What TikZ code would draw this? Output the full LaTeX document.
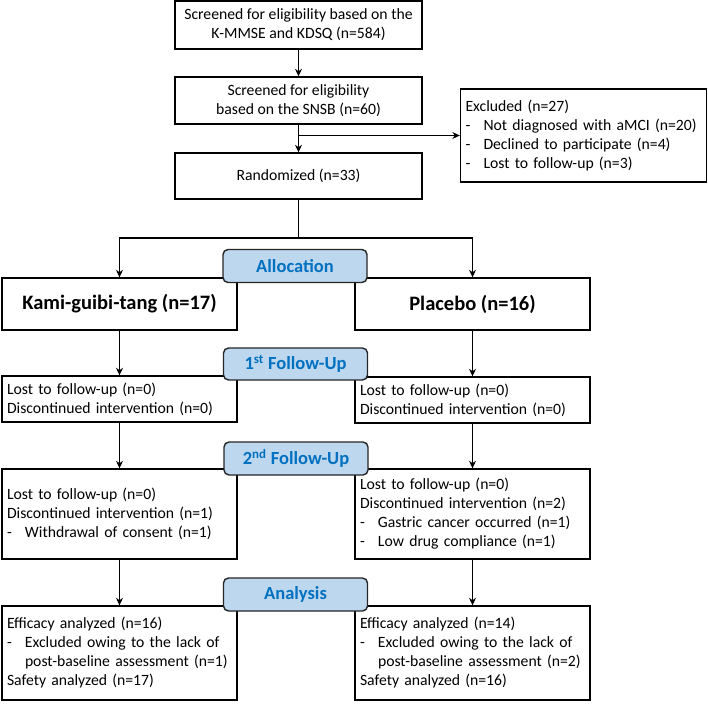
\documentclass[tikz,border=0pt]{standalone}
\usepackage{fontspec}
\setmainfont{Carlito}
\usetikzlibrary{arrows.meta}

\definecolor{stagefill}{HTML}{BDD7EE}
\definecolor{stagetext}{HTML}{0070C0}

\newcommand{\dashln}[1]{\makebox[18pt][l]{-}#1}

\tikzset{
  box/.style={draw=black, line width=1.4pt, fill=white, align=center, inner sep=0pt,
    font=\fontsize{15.7}{19}\selectfont},
  listbox/.style={box, align=left, inner xsep=5pt, text width=#1},
  groupbox/.style={box, font=\fontsize{20.5}{22}\selectfont\bfseries},
  stage/.style={draw=black!85, line width=1.4pt, fill=stagefill, rounded corners=5pt,
    text=stagetext, font=\fontsize{18.5}{20}\selectfont\bfseries,
    minimum width=144pt, minimum height=33pt, inner sep=0pt},
  arr/.style={-{Stealth[length=7.5pt,width=7pt]}, line width=1.1pt}
}

\begin{document}
\begin{tikzpicture}[x=1pt, y=-1pt]
        \useasboundingbox (0,0) rectangle (708,703);
        % screening
        \node[box, minimum width=247pt, minimum height=48pt] (scr1) at (298.5,25)
          {Screened for eligibility based on the\\K-MMSE and KDSQ (n=584)};
        \node[box, minimum width=247pt, minimum height=47pt] (scr2) at (298.5,100.5)
          {Screened for eligibility\\based on the SNSB (n=60)};
        \node[box, minimum width=247pt, minimum height=46pt] (rand) at (298.5,176)
          {Randomized (n=33)};
        \node[listbox=236pt, minimum height=93pt] (excl) at (583.5,135.5)
          {Excluded (n=27)\\
           \dashln{Not diagnosed with aMCI (n=20)}\\
           \dashln{Declined to participate (n=4)}\\
           \dashln{Lost to follow-up (n=3)}};
        \coordinate (split) at (298.5,238);
        % groups
        \node[groupbox, minimum width=235pt, minimum height=52pt] (kami) at (119.5,304)
          {Kami-guibi-tang (n=17)};
        \node[groupbox, minimum width=235pt, minimum height=52pt] (plac) at (472.5,304)
          {Placebo (n=16)};
        % first follow-up
        \node[listbox=225pt, minimum height=46pt] (fuL) at (119.5,399)
          {Lost to follow-up (n=0)\\Discontinued intervention (n=0)};
        \node[listbox=225pt, minimum height=46pt] (fuR) at (472.5,400)
          {Lost to follow-up (n=0)\\Discontinued intervention (n=0)};
        % second follow-up
        \node[listbox=225pt, minimum height=90pt] (sfL) at (119.5,514)
          {Lost to follow-up (n=0)\\Discontinued intervention (n=1)\\
           \dashln{Withdrawal of consent (n=1)}};
        \node[listbox=225pt, minimum height=90pt] (sfR) at (472.5,514)
          {Lost to follow-up (n=0)\\Discontinued intervention (n=2)\\
           \dashln{Gastric cancer occurred (n=1)}\\
           \dashln{Low drug compliance (n=1)}};
        % analysis
        \node[listbox=225pt, minimum height=94pt] (anL) at (119.5,653)
          {Efficacy analyzed (n=16)\\
           \dashln{Excluded owing to the lack of}\\
           \hspace*{18pt}post-baseline assessment (n=1)\\
           Safety analyzed (n=17)};
        \node[listbox=225pt, minimum height=94pt] (anR) at (472.5,653)
          {Efficacy analyzed (n=14)\\
           \dashln{Excluded owing to the lack of}\\
           \hspace*{18pt}post-baseline assessment (n=2)\\
           Safety analyzed (n=16)};
        % connectors
        \draw[arr] (scr1.south) -- (scr2.north);
        \draw[arr] (scr2.south) -- (rand.north);
        \draw[arr] (scr2.south |- excl.west) -- (excl.west);
        \draw[line width=1.1pt] (rand.south) -- (split);
        \draw[arr] (split) -| (kami.north);
        \draw[arr] (split) -| (plac.north);
        \draw[arr] (kami.south) -- (fuL.north);
        \draw[arr] (plac.south) -- (fuR.north);
        \draw[arr] (fuL.south) -- (sfL.north);
        \draw[arr] (fuR.south) -- (sfR.north);
        \draw[arr] (sfL.south) -- (anL.north);
        \draw[arr] (sfR.south) -- (anR.north);
        % stage labels
        \node[stage] (alloc) at (295,266) {Allocation};
        \node[stage, minimum height=32pt] (fu1) at (295.5,364) {1\textsuperscript{st} Follow-Up};
        \node[stage] (fu2) at (296,458.5) {2\textsuperscript{nd} Follow-Up};
        \node[stage] (ana) at (295.5,594.5) {Analysis};
\end{tikzpicture}
\end{document}
